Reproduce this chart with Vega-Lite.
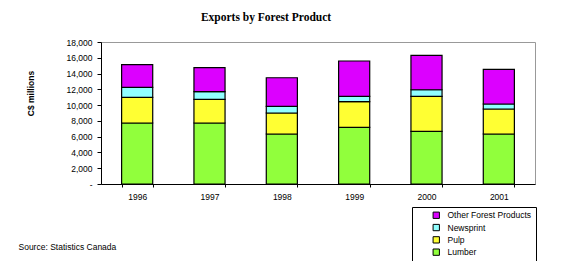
{
  "$schema": "https://vega.github.io/schema/vega-lite/v6.json",
  "width": 434,
  "height": 142,
  "autosize": {"type": "none"},
  "padding": {"left": 101, "top": 42, "right": 45, "bottom": 77},
  "background": "white",
  "title": {
    "text": "Exports by Forest Product",
    "font": "Liberation Serif",
    "fontSize": 11.5,
    "fontWeight": "bold",
    "color": "black",
    "anchor": "middle",
    "dx": -52,
    "baseline": "alphabetic",
    "offset": 6
  },
  "data": {
    "values": [
      {"year": "1996", "product": "Lumber", "rank": 1, "value": 7730},
      {"year": "1996", "product": "Pulp", "rank": 2, "value": 3250},
      {"year": "1996", "product": "Newsprint", "rank": 3, "value": 1260},
      {"year": "1996", "product": "Other Forest Products", "rank": 4, "value": 2880},
      {"year": "1997", "product": "Lumber", "rank": 1, "value": 7730},
      {"year": "1997", "product": "Pulp", "rank": 2, "value": 2990},
      {"year": "1997", "product": "Newsprint", "rank": 3, "value": 980},
      {"year": "1997", "product": "Other Forest Products", "rank": 4, "value": 3040},
      {"year": "1998", "product": "Lumber", "rank": 1, "value": 6340},
      {"year": "1998", "product": "Pulp", "rank": 2, "value": 2660},
      {"year": "1998", "product": "Newsprint", "rank": 3, "value": 840},
      {"year": "1998", "product": "Other Forest Products", "rank": 4, "value": 3630},
      {"year": "1999", "product": "Lumber", "rank": 1, "value": 7170},
      {"year": "1999", "product": "Pulp", "rank": 2, "value": 3260},
      {"year": "1999", "product": "Newsprint", "rank": 3, "value": 670},
      {"year": "1999", "product": "Other Forest Products", "rank": 4, "value": 4490},
      {"year": "2000", "product": "Lumber", "rank": 1, "value": 6670},
      {"year": "2000", "product": "Pulp", "rank": 2, "value": 4430},
      {"year": "2000", "product": "Newsprint", "rank": 3, "value": 850},
      {"year": "2000", "product": "Other Forest Products", "rank": 4, "value": 4350},
      {"year": "2001", "product": "Lumber", "rank": 1, "value": 6340},
      {"year": "2001", "product": "Pulp", "rank": 2, "value": 3170},
      {"year": "2001", "product": "Newsprint", "rank": 3, "value": 630},
      {"year": "2001", "product": "Other Forest Products", "rank": 4, "value": 4380}
    ]
  },
  "mark": {"type": "bar", "stroke": "black", "strokeWidth": 1.2},
  "encoding": {
    "x": {
      "field": "year",
      "type": "ordinal",
      "scale": {"paddingInner": 0.57, "paddingOuter": 0.285},
      "axis": {
        "labelAngle": 0,
        "tickBand": "extent",
        "domainColor": "black",
        "tickColor": "black",
        "tickSize": 3,
        "labelPadding": 5,
        "labelFont": "Liberation Sans",
        "labelFontSize": 8.5,
        "labelColor": "black",
        "title": "Source: Statistics Canada",
        "titleFont": "Liberation Sans",
        "titleFontSize": 8.5,
        "titleFontWeight": "normal",
        "titleColor": "black",
        "titleX": -83,
        "titleY": 65,
        "titleAlign": "left",
        "titleBaseline": "alphabetic"
      }
    },
    "y": {
      "field": "value",
      "type": "quantitative",
      "stack": "zero",
      "scale": {"domain": [0, 18000]},
      "axis": {
        "values": [0, 2000, 4000, 6000, 8000, 10000, 12000, 14000, 16000, 18000],
        "labelExpr": "datum.value == 0 ? '-' : format(datum.value, ',')",
        "grid": false,
        "domainColor": "black",
        "tickColor": "black",
        "tickSize": 4,
        "labelPadding": 5,
        "labelFont": "Liberation Sans",
        "labelFontSize": 8.5,
        "labelColor": "black",
        "title": "C$ millions",
        "titleFont": "Liberation Sans",
        "titleFontSize": 8.5,
        "titleFontWeight": "bold",
        "titleColor": "black",
        "titleX": -71,
        "titleY": 51,
        "titleAngle": -90,
        "titleAlign": "center",
        "titleBaseline": "middle"
      }
    },
    "order": {"field": "rank", "type": "quantitative", "sort": "ascending"},
    "color": {
      "field": "product",
      "type": "nominal",
      "scale": {
        "domain": ["Other Forest Products", "Newsprint", "Pulp", "Lumber"],
        "range": ["#DC00FF", "#91FFFF", "#FFFF33", "#91FF3C"]
      },
      "legend": {
        "orient": "none",
        "legendX": 311,
        "legendY": 165,
        "title": null,
        "strokeColor": "black",
        "fillColor": "white",
        "padding": 4,
        "symbolType": "square",
        "symbolSize": 40,
        "symbolStrokeColor": "black",
        "symbolStrokeWidth": 1,
        "symbolOpacity": 1,
        "symbolOffset": 16,
        "labelOffset": 7,
        "labelFont": "Liberation Sans",
        "labelFontSize": 8.5,
        "labelColor": "black",
        "rowPadding": 1.3
      }
    }
  },
  "config": {
    "view": {"stroke": "#999999"}
  }
}
